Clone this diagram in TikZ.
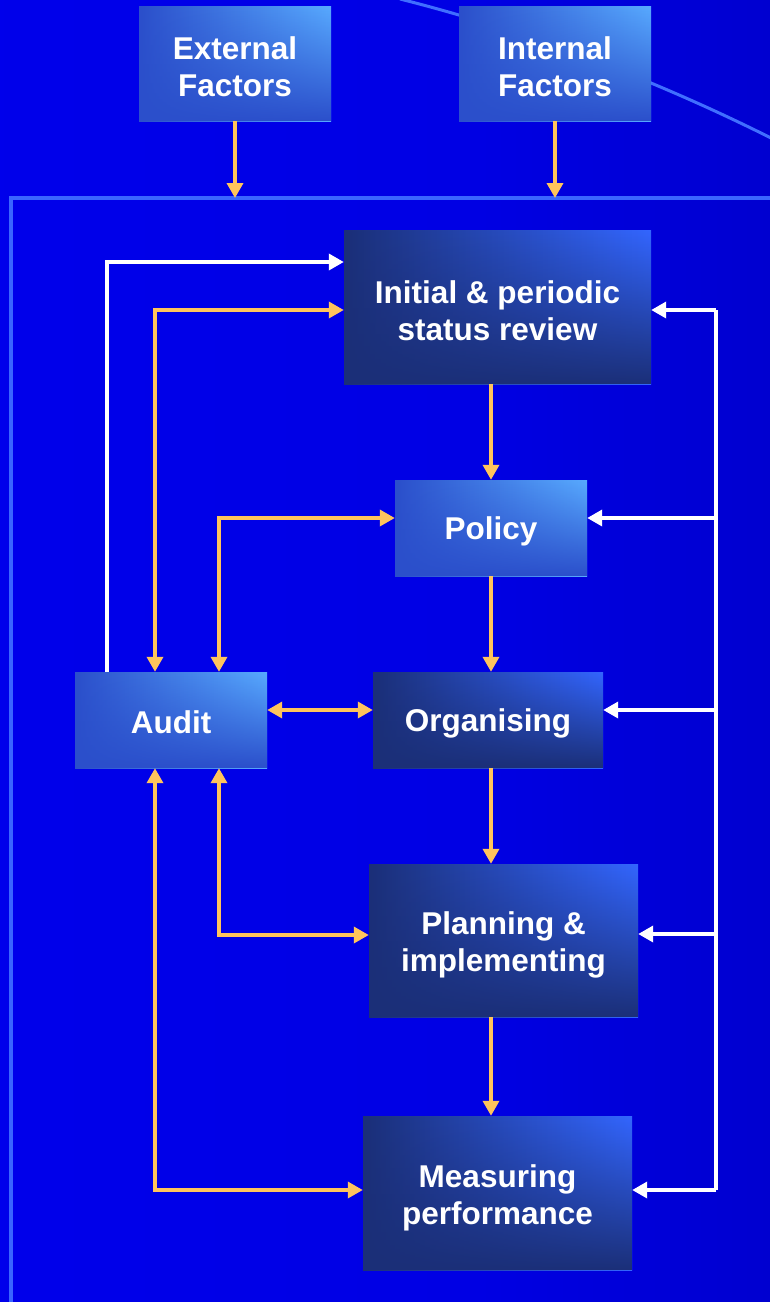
\documentclass[tikz,border=0pt]{standalone}
\usepackage{fontspec}
\setmainfont{Liberation Sans}
\usetikzlibrary{arrows.meta,fadings}

% palette
\definecolor{bgA}{RGB}{0,0,240}
\definecolor{bgB}{RGB}{0,0,228}
\definecolor{bgC}{RGB}{0,0,205}
\definecolor{bgD}{RGB}{0,0,176}
\definecolor{frameBlue}{RGB}{58,102,255}
\definecolor{arcBlue}{RGB}{64,110,255}
\definecolor{flowOrange}{RGB}{255,196,92}
\definecolor{liteL}{RGB}{43,79,203}
\definecolor{liteM}{RGB}{58,112,255}
\definecolor{liteR}{RGB}{88,170,255}
\definecolor{darkL}{RGB}{27,47,120}
\definecolor{darkM}{RGB}{38,70,188}
\definecolor{darkR}{RGB}{51,102,255}

% slide background, darkening towards the right edge
\pgfdeclarehorizontalshading{bgshade}{100bp}{%
  color(0bp)=(bgA); color(55bp)=(bgB); color(78bp)=(bgC); color(100bp)=(bgD)}

% darker band along the lower part of each box
\tikzfading[name=boxfade, top color=transparent!100,
  middle color=transparent!88, bottom color=transparent!0]

\begin{document}
\begin{tikzpicture}[x=1pt,y=-1pt,
  >={Triangle[length=15pt,width=16pt]},
  boxtext/.style={text=white, align=center,
    font=\bfseries\fontsize{31.5}{37}\selectfont, inner sep=0pt},
  litebox/.style={inner sep=0pt, left color=liteL, middle color=liteM, right color=liteR,
    postaction={fill=liteL, path fading=boxfade}},
  darkbox/.style={inner sep=0pt, left color=darkL, middle color=darkM, right color=darkR,
    postaction={fill=darkL, path fading=boxfade}},
  oline/.style={draw=flowOrange, line width=3.5pt},
  wline/.style={draw=white, line width=3.5pt},
]
\useasboundingbox (0,0) rectangle (770,1302);
\clip (0,0) rectangle (770,1302);

% background, decorative arc and the enclosing frame
\shade[shading=bgshade] (0,0) rectangle (770,1302);
\draw[arcBlue, line width=3pt] (400,-1) .. controls (523,30) and (652,78) .. (775,140);
\draw[frameBlue, line width=4pt] (11,1310) -- (11,198) -- (780,198);
\coordinate (ftop) at (0,198);

% boxes
\node[litebox, minimum width=192pt, minimum height=115pt] (ext) at (235,63.5) {};
\node[litebox, minimum width=192pt, minimum height=115pt] (int) at (555,63.5) {};
\node[darkbox, minimum width=307pt, minimum height=154pt] (init) at (497.5,307) {};
\node[litebox, minimum width=192pt, minimum height=96pt] (pol) at (491,528) {};
\node[litebox, minimum width=192pt, minimum height=96pt] (aud) at (171,720) {};
\node[darkbox, minimum width=230pt, minimum height=96pt] (org) at (488,720) {};
\node[darkbox, minimum width=269pt, minimum height=153pt] (plan) at (503.5,940.5) {};
\node[darkbox, minimum width=269pt, minimum height=154pt] (meas) at (497.5,1193) {};

% box labels
\node[boxtext] (extT)  at ([yshift=-3pt]ext.center)  {External\\Factors};
\node[boxtext] (intT)  at ([yshift=-3pt]int.center)  {Internal\\Factors};
\node[boxtext] (initT) at ([yshift=-3.5pt]init.center) {Initial \& periodic\\status review};
\node[boxtext] (polT)  at ([yshift=-3pt]pol.center)  {Policy};
\node[boxtext] (audT)  at ([yshift=-2pt]aud.center)  {Audit};
\node[boxtext] (orgT)  at ([yshift=-3pt]org.center)  {Organising};
\node[boxtext] (planT) at ([yshift=-4pt]plan.center) {Planning \&\\implementing};
\node[boxtext] (measT) at ([yshift=-5pt]meas.center) {Measuring\\performance};

% factors feeding the system
\draw[oline,->] (ext.south) -- (ext.south |- ftop);
\draw[oline,->] (int.south) -- (int.south |- ftop);

% main chain
\coordinate (spine) at (491,0);
\draw[oline,->] (spine |- init.south) -- (spine |- pol.north);
\draw[oline,->] (spine |- pol.south) -- (spine |- org.north);
\draw[oline,->] (spine |- org.south) -- (spine |- plan.north);
\draw[oline,->] (spine |- plan.south) -- (spine |- meas.north);

% audit links
\coordinate (w1) at (107,262);
\coordinate (a1) at (155,310);
\coordinate (a2) at (219,518);
\coordinate (a3) at (320,710);
\coordinate (a4) at (219,935);
\coordinate (a5) at (155,1190);
\draw[wline,->] (w1 |- aud.north) -- (w1) -- (w1 -| init.west);
\draw[oline,<->] (a1 |- aud.north) -- (a1) -- (a1 -| init.west);
\draw[oline,<->] (a2 |- aud.north) -- (a2) -- (a2 -| pol.west);
\draw[oline,<->] (a3 -| aud.east) -- (a3 -| org.west);
\draw[oline,<->] (a4 |- aud.south) -- (a4) -- (a4 -| plan.west);
\draw[oline,<->] (a5 |- aud.south) -- (a5) -- (a5 -| meas.west);

% feedback bus on the right
\coordinate (bt) at (716,310);
\coordinate (bp) at (716,518);
\coordinate (bo) at (716,710);
\coordinate (bl) at (716,934);
\coordinate (bb) at (716,1190);
\draw[wline] (bt) -- (bb);
\draw[wline,->] (bt) -- (bt -| init.east);
\draw[wline,->] (bp) -- (bp -| pol.east);
\draw[wline,->] (bo) -- (bo -| org.east);
\draw[wline,->] (bl) -- (bl -| plan.east);
\draw[wline,->] (bb) -- (bb -| meas.east);
\end{tikzpicture}
\end{document}
